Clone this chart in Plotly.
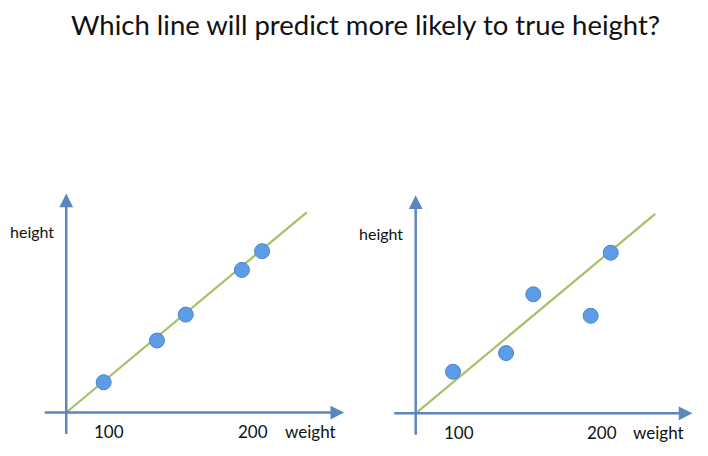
import plotly.graph_objects as go

# ---- data ----
title_text = "Which line will predict more likely to true height?"
weights_left = [97, 134, 154, 193, 207]
heights_left = [21, 50, 68, 99, 112]
weights_right = [97, 134, 153, 193, 207]
heights_right = [29, 42, 83, 68, 112]
fit_weights = [71, 238]
fit_heights = [0, 139]
tick_vals = [100, 200]
tick_labels = ["100", "200"]
x_label = "weight"
y_label = "height"

# axis geometry (in data units)
origin_w = 71
x_axis_span = [55, 264]
y_axis_span = [-16, 152]

BLUE_AXIS = "#5b86c0"
GREEN = "#a3c166"
FONT = "Lato"
OFF = 8  # page offset of the plot div (body margin)


def lin_range(p0, p1, pa, va, pb, vb):
    k = (vb - va) / (pb - pa)
    return [va + (p0 - pa) * k, va + (p1 - pa) * k]


# calibrations: screen px -> data value
L_x = lin_range(0 + OFF, 354 + OFF, 108, 100, 252, 200)
L_y = lin_range(456 + OFF, 0 + OFF, 412.5, 0, 412.5 - 144, 100)
R_x = lin_range(354 + OFF, 708 + OFF, 457.3, 100, 600.7, 200)
R_y = lin_range(456 + OFF, 0 + OFF, 413.3, 0, 413.3 - 143.4, 100)

fig = go.Figure()

panels = [
    ("x", "y", weights_left, heights_left),
    ("x2", "y2", weights_right, heights_right),
]

annotations = [dict(text=title_text, xref="paper", yref="paper",
                    x=(366 - OFF) / 708, xanchor="center",
                    y=1 - (25 - OFF) / 456, yanchor="middle", showarrow=False,
                    font=dict(size=27.5, color="#111111", family=FONT))]
for xa, ya, ws, hs in panels:
    fig.add_trace(go.Scatter(x=fit_weights, y=fit_heights, mode="lines",
                             line=dict(color=GREEN, width=2.2),
                             xaxis=xa, yaxis=ya, hoverinfo="skip", showlegend=False))
    fig.add_trace(go.Scatter(x=ws, y=hs, mode="markers",
                             marker=dict(size=15, color="#5d9ce6",
                                         line=dict(color="#4a84cf", width=1)),
                             xaxis=xa, yaxis=ya, showlegend=False))
    # axis arrows
    annotations.append(dict(x=x_axis_span[1], y=0, ax=x_axis_span[0], ay=0,
                            xref=xa, yref=ya, axref=xa, ayref=ya, text="",
                            showarrow=True, arrowhead=2, arrowsize=1.1,
                            arrowwidth=2.5, arrowcolor=BLUE_AXIS))
    annotations.append(dict(x=origin_w, y=y_axis_span[1], ax=origin_w, ay=y_axis_span[0],
                            xref=xa, yref=ya, axref=xa, ayref=ya, text="",
                            showarrow=True, arrowhead=2, arrowsize=1.1,
                            arrowwidth=2.5, arrowcolor=BLUE_AXIS))
    for tv, tl in zip(tick_vals, tick_labels):
        annotations.append(dict(x=tv + 1, y=-13.5, xref=xa, yref=ya, text=tl,
                                showarrow=False, font=dict(size=17, color="#111111", family=FONT)))
    annotations.append(dict(x=240.5, y=-13.5, xref=xa, yref=ya, text=x_label,
                            showarrow=False, font=dict(size=17, color="#111111", family=FONT)))
    annotations.append(dict(x=47, y=125.5, xref=xa, yref=ya, text=y_label,
                            showarrow=False, font=dict(size=16, color="#111111", family=FONT)))

axis_common = dict(visible=False, showgrid=False, zeroline=False, fixedrange=True)
fig.update_layout(
    width=708, height=456,
    margin=dict(l=0, r=0, t=0, b=0),
    paper_bgcolor="white", plot_bgcolor="white",
    xaxis=dict(domain=[0, 0.5], range=L_x, anchor="y", **axis_common),
    yaxis=dict(domain=[0, 1], range=L_y, anchor="x", **axis_common),
    xaxis2=dict(domain=[0.5, 1], range=R_x, anchor="y2", **axis_common),
    yaxis2=dict(domain=[0, 1], range=R_y, anchor="x2", **axis_common),
    annotations=annotations,
    showlegend=False,
)

fig.write_html("out.html")
